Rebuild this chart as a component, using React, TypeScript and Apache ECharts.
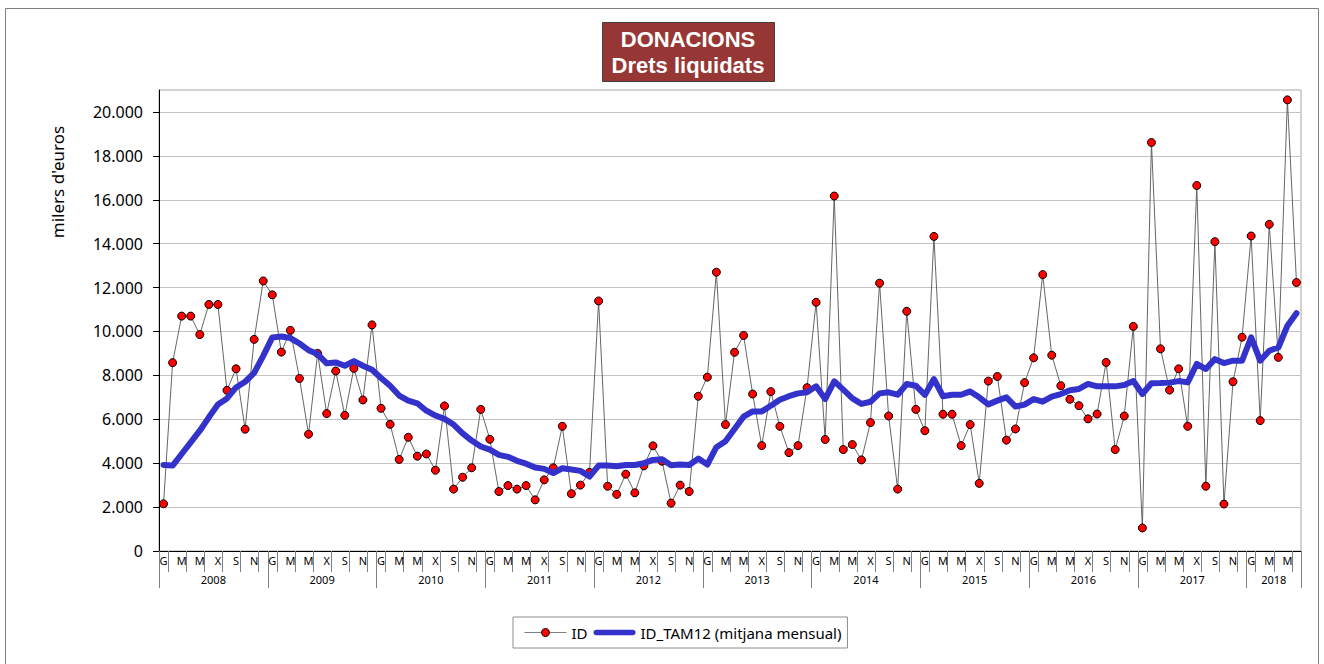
import React, { useEffect, useRef } from 'react';
import * as echarts from 'echarts';

const years = ['2008', '2009', '2010', '2011', '2012', '2013', '2014', '2015', '2016', '2017', '2018'];
const monthLetters = ['G', 'F', 'M', 'A', 'M', 'J', 'X', 'A', 'S', 'O', 'N', 'D'];
const seriesNames = ['ID', 'ID_TAM12 (mitjana mensual)'];
const yTicks = [0, 2000, 4000, 6000, 8000, 10000, 12000, 14000, 16000, 18000, 20000];

// milers d'euros, gener 2008 - juny 2018
const idValues = [
  2150, 8580, 10700, 10700, 9860, 11230, 11230, 7320, 8300, 5550, 9640, 12300,
  11670, 9060, 10050, 7860, 5320, 9000, 6260, 8200, 6180, 8320, 6880, 10300,
  6500, 5770, 4170, 5180, 4320, 4420, 3680, 6610, 2820, 3360, 3790, 6450,
  5090, 2710, 2980, 2820, 2980, 2330, 3240, 3790, 5680, 2610, 3000, 3580,
  11390, 2950, 2580, 3500, 2650, 3880, 4790, 4090, 2180, 3000, 2710, 7050,
  7920, 12700, 5760, 9050, 9820, 7150, 4800, 7260, 5680, 4480, 4800, 7440,
  11330, 5080, 16170, 4620, 4850, 4150, 5850, 12200, 6150, 2820, 10920, 6450,
  5480, 14330, 6230, 6230, 4800, 5760, 3080, 7740, 7950, 5050, 5560, 7670,
  8800, 12590, 8920, 7530, 6910, 6620, 6020, 6240, 8590, 4620, 6150, 10230,
  1050, 18610, 9210, 7330, 8300, 5680, 16650, 2950, 14090, 2140, 7710, 9740,
  14350, 5940, 14880, 8820, 20550, 12230,
];

const tamValues = [
  3920, 3890, 4420, 4950, 5480, 6090, 6670, 6950, 7450, 7710, 8110, 8890,
  9730, 9770, 9700, 9450, 9150, 8970, 8550, 8590, 8440, 8650, 8440, 8260,
  7880, 7530, 7080, 6850, 6730, 6390, 6170, 6020, 5760, 5360, 5030, 4760,
  4620, 4380, 4290, 4110, 3980, 3800, 3740, 3550, 3770, 3710, 3650, 3390,
  3890, 3890, 3860, 3920, 3920, 4000, 4150, 4180, 3910, 3940, 3920, 4210,
  3940, 4730, 5000, 5560, 6120, 6360, 6360, 6620, 6890, 7050, 7180, 7230,
  7500, 6920, 7730, 7350, 6950, 6700, 6800, 7180, 7230, 7120, 7610, 7530,
  7110, 7830, 7050, 7120, 7120, 7270, 7000, 6680, 6850, 7000, 6580, 6670,
  6920, 6800, 7030, 7150, 7320, 7380, 7610, 7500, 7500, 7500, 7560, 7740,
  7150, 7640, 7650, 7670, 7740, 7680, 8520, 8290, 8740, 8560, 8670, 8670,
  9730, 8670, 9120, 9270, 10260, 10830,
];

const N = idValues.length;
const monthCats = idValues.map((_, i) => monthLetters[i % 12]);
const yearCats = idValues.map((_, i) => years[Math.floor(i / 12)]);
const yearLabelIdx = new Set<number>(
  years.map((_, k) => {
    const count = Math.min(12, N - 12 * k);
    return 12 * k + Math.floor(count / 2) - 1;
  })
);

const fmt = (v: number) => String(v).replace(/\B(?=(\d{3})+(?!\d))/g, '.');
const FONT = '"Noto Sans", "Open Sans", sans-serif';
const BLUE = '#3333cc';

export default function App() {
  const ref = useRef<HTMLDivElement>(null);
  useEffect(() => {
    if (!ref.current) return;
    const chart = echarts.init(ref.current, undefined, { renderer: 'svg' });
    chart.setOption({
      animation: false,
      backgroundColor: '#ffffff',
      textStyle: { fontFamily: FONT },
      grid: {
        left: 159,
        right: 23,
        top: 90,
        bottom: 113,
        show: true,
        borderColor: '#a6a6a6',
        borderWidth: 1,
        backgroundColor: 'transparent',
      },
      graphic: [
        {
          type: 'rect',
          shape: { x: 5.5, y: 8.5, width: 1313, height: 700 },
          style: { fill: 'none', stroke: '#808080', lineWidth: 1 },
          silent: true,
        },
        {
          type: 'rect',
          shape: { x: 602.5, y: 22.5, width: 172, height: 59 },
          style: { fill: '#973735', stroke: '#404040', lineWidth: 1 },
        },
        {
          type: 'text',
          x: 688,
          y: 39,
          style: {
            text: 'DONACIONS',
            fill: '#ffffff',
            font: 'bold 22px "Liberation Sans", Arial, sans-serif',
            align: 'center',
            verticalAlign: 'middle',
          },
        },
        {
          type: 'text',
          x: 688,
          y: 65,
          style: {
            text: 'Drets liquidats',
            fill: '#ffffff',
            font: 'bold 22px "Liberation Sans", Arial, sans-serif',
            align: 'center',
            verticalAlign: 'middle',
          },
        },
        {
          type: 'text',
          x: 57,
          y: 182,
          rotation: Math.PI / 2,
          style: {
            text: "milers d'euros",
            fill: '#000000',
            font: '17px "Noto Sans", sans-serif',
            align: 'center',
            verticalAlign: 'middle',
          },
        },
      ],
      legend: {
        left: 513,
        top: 617,
        data: [
          {
            name: seriesNames[0],
            lineStyle: { width: 1, color: '#808080' },
            itemStyle: { borderWidth: 1, borderColor: '#000000' },
          },
          {
            name: seriesNames[1],
            icon: 'path://M3 0H42A3 3 0 0 1 42 6H3A3 3 0 0 1 3 0Z',
            itemStyle: { color: BLUE },
          },
        ],
        itemWidth: 42,
        itemHeight: 10,
        itemGap: 6,
        padding: [8, 6, 8, 11],
        borderColor: '#8c8c8c',
        borderWidth: 1,
        textStyle: { fontSize: 15, fontFamily: FONT, color: '#000000' },
      },
      xAxis: [
        {
          type: 'category',
          data: monthCats,
          position: 'bottom',
          boundaryGap: true,
          axisLine: { show: true, lineStyle: { color: '#000000', width: 1 } },
          axisTick: {
            show: true,
            length: 21,
            interval: (i: number) => i % 2 === 1,
            lineStyle: { color: '#808080', width: 1 },
          },
          axisLabel: {
            interval: (i: number) => i % 2 === 0,
            margin: 4,
            fontSize: 11,
            fontFamily: FONT,
            color: '#000000',
          },
          splitLine: { show: false },
        },
        {
          type: 'category',
          data: yearCats,
          position: 'bottom',
          offset: 0,
          boundaryGap: true,
          axisLine: { show: false },
          axisTick: {
            show: true,
            length: 37,
            interval: (i: number) => i % 12 === 0,
            lineStyle: { color: '#808080', width: 1 },
          },
          axisLabel: {
            interval: (i: number) => yearLabelIdx.has(i),
            margin: 23,
            padding: [0, 0, 0, 9],
            fontSize: 11,
            fontFamily: FONT,
            color: '#000000',
          },
          splitLine: { show: false },
        },
      ],
      yAxis: {
        type: 'value',
        min: 0,
        max: 21000,
        axisLine: { show: true, lineStyle: { color: '#000000', width: 1 } },
        axisTick: {
          show: true,
          length: 6,
          customValues: yTicks,
          lineStyle: { color: '#000000' },
        },
        axisLabel: {
          customValues: yTicks,
          formatter: (v: number) => fmt(v),
          margin: 16,
          fontSize: 16,
          fontFamily: FONT,
          color: '#000000',
        },
        splitLine: { show: true, lineStyle: { color: '#c4c4c4', width: 1 } },
      },
      series: [
        {
          name: seriesNames[0],
          type: 'line',
          data: idValues,
          symbol: 'circle',
          symbolSize: 8,
          showSymbol: true,
          showAllSymbol: true,
          lineStyle: { color: '#555555', width: 0.9 },
          itemStyle: { color: '#ff0000', borderColor: '#000000', borderWidth: 1 },
          z: 2,
        },
        {
          name: seriesNames[1],
          type: 'line',
          data: tamValues,
          symbol: 'none',
          lineStyle: { color: BLUE, width: 6, cap: 'round', join: 'round' },
          itemStyle: { color: BLUE },
          z: 3,
        },
      ],
    });
    return () => chart.dispose();
  }, []);
  return (
    <div
      ref={ref}
      style={{ position: 'fixed', left: 0, top: 0, width: 1324, height: 664, background: '#fff' }}
    />
  );
}
